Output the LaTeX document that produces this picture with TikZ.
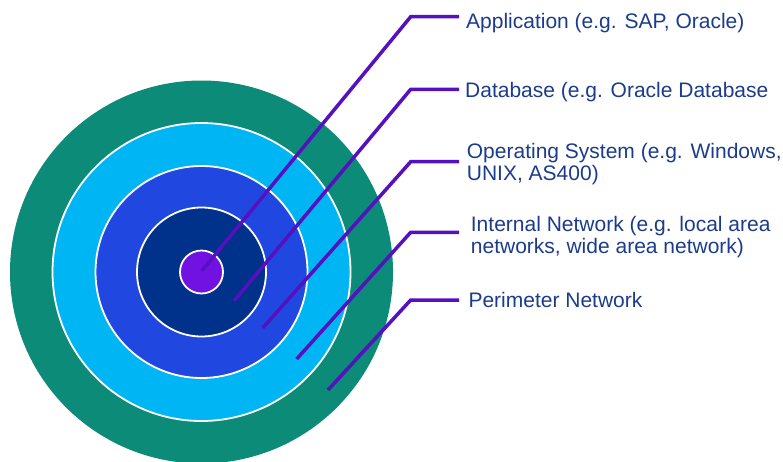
\documentclass[tikz,border=0pt]{standalone}
\usepackage{fontspec}
\setmainfont{Liberation Sans}
\usepackage{xcolor}
\usetikzlibrary{positioning}

\definecolor{ringTeal}{HTML}{0B8B78}
\definecolor{ringSky}{HTML}{00B5F3}
\definecolor{ringBlue}{HTML}{2048E0}
\definecolor{ringNavy}{HTML}{00318B}
\definecolor{ringCore}{HTML}{7112E2}
\definecolor{leaderPurple}{HTML}{5510C0}
\definecolor{labelBlue}{HTML}{1B3C8C}

\tikzset{
    ring/.style={circle, draw=white, line width=1.8pt, inner sep=0pt, minimum size=#1},
    leader/.style={draw=leaderPurple, line width=3.5pt},
    layerlbl/.style={anchor=base west, inner sep=0pt, text=labelBlue,
                     font=\fontsize{21}{21.7}\selectfont, align=left},
}

\begin{document}
\begin{tikzpicture}[x=1pt, y=-1pt]
    \useasboundingbox (0,0) rectangle (783,461);

    % concentric layers
    \node[ring=383, fill=ringTeal, draw=none] (perimRing) at (201.5,272) {};
    \node[ring=298, fill=ringSky] (netRing) at (201.5,272) {};
    \node[ring=212, fill=ringBlue] (osRing) at (201.5,272) {};
    \node[ring=129, fill=ringNavy] (dbRing) at (201.5,272) {};
    \node[ring=43, fill=ringCore] (appRing) at (201.5,272) {};

    % labels (base = last line)
    \node[layerlbl] (app) at (466,28.3) {Application (e.g. SAP, Oracle)};
    \node[layerlbl] (db) at (465,97.3) {Database (e.g. Oracle Database};
    \node[layerlbl] (os) at (466.7,180) {Operating System (e.g. Windows,\\UNIX, AS400)};
    \node[layerlbl] (net) at (470.7,253.3) {Internal Network (e.g. local area\\networks, wide area network)};
    \node[layerlbl] (perim) at (468.3,307.3) {Perimeter Network};

    % leader lines
    \coordinate (appTip) at (201.7,271);
    \coordinate (appBend) at (410.7,16.7);
    \coordinate (appEnd) at (459,16.7);
    \coordinate (dbTip) at (234,301);
    \coordinate (dbBend) at (410.7,89.3);
    \coordinate (dbEnd) at (459,89.3);
    \coordinate (osTip) at (262.7,328);
    \coordinate (osBend) at (410.7,161.7);
    \coordinate (osEnd) at (459,161.7);
    \coordinate (netTip) at (296.7,359);
    \coordinate (netBend) at (410.7,232.3);
    \coordinate (netEnd) at (459,232.3);
    \coordinate (perimTip) at (328,390);
    \coordinate (perimBend) at (410.7,300);
    \coordinate (perimEnd) at (459,300);

    \draw[leader] (appTip) -- (appBend) -- (appEnd);
    \draw[leader] (dbTip) -- (dbBend) -- (dbEnd);
    \draw[leader] (osTip) -- (osBend) -- (osEnd);
    \draw[leader] (netTip) -- (netBend) -- (netEnd);
    \draw[leader] (perimTip) -- (perimBend) -- (perimEnd);
\end{tikzpicture}
\end{document}
